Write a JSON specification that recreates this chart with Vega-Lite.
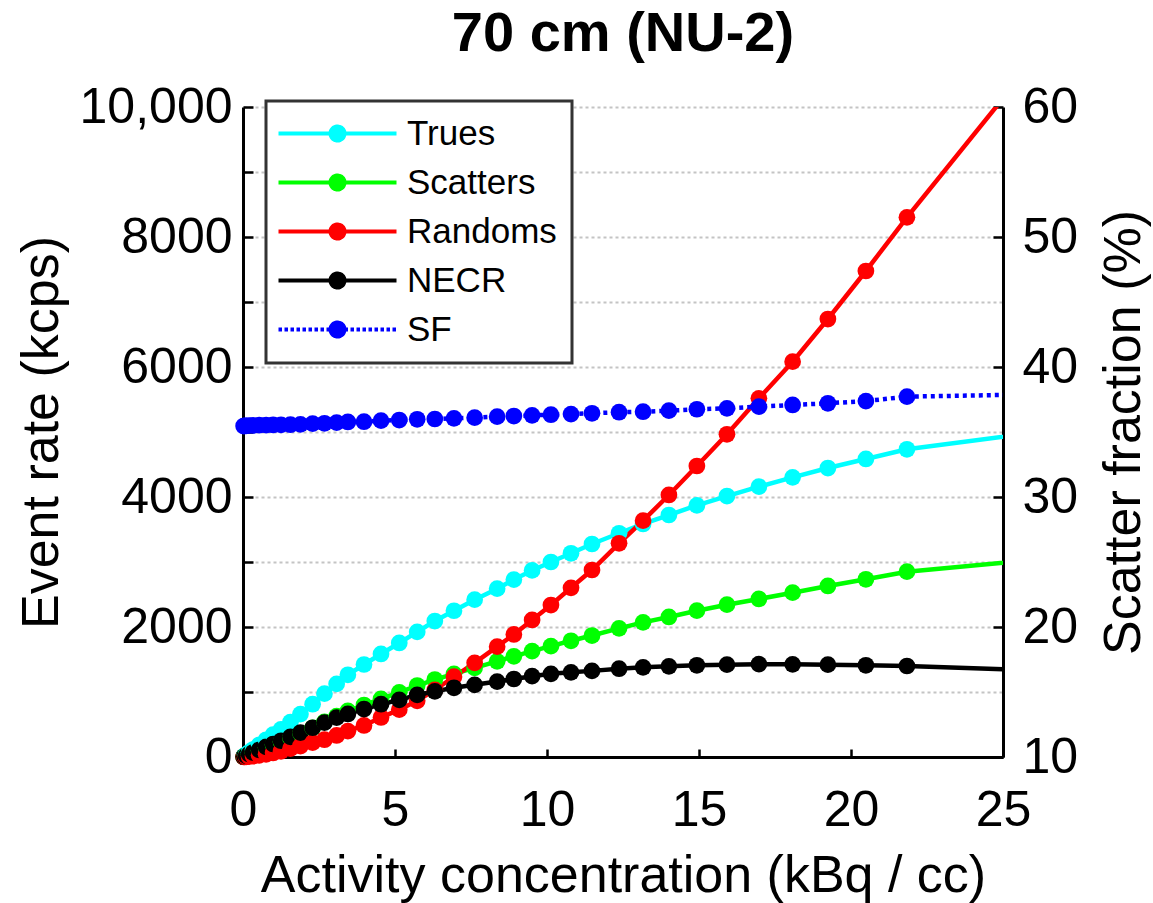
{
  "$schema": "https://vega.github.io/schema/vega-lite/v6.json",
  "width": 760,
  "height": 650,
  "autosize": {"type": "none"},
  "padding": {"left": 243, "top": 107, "right": 150, "bottom": 146},
  "background": "white",
  "title": {"text": "70 cm (NU-2)", "fontSize": 56, "font": "Liberation Sans", "fontWeight": "bold", "color": "#000000", "anchor": "middle", "offset": 19},
  "config": {"view": {"stroke": null}},
  "data": {"values": [
    {"x": 0.02, "Trues": 7, "Scatters": 4, "Randoms": 0, "NECR": 4, "SF": 35.46},
    {"x": 0.05, "Trues": 18, "Scatters": 10, "Randoms": 1, "NECR": 11, "SF": 35.47},
    {"x": 0.10, "Trues": 35, "Scatters": 19, "Randoms": 3, "NECR": 21, "SF": 35.48},
    {"x": 0.20, "Trues": 70, "Scatters": 38, "Randoms": 7, "NECR": 43, "SF": 35.50},
    {"x": 0.33, "Trues": 115, "Scatters": 63, "Randoms": 14, "NECR": 69, "SF": 35.51},
    {"x": 0.53, "Trues": 185, "Scatters": 101, "Randoms": 26, "NECR": 110, "SF": 35.52},
    {"x": 0.76, "Trues": 265, "Scatters": 145, "Randoms": 42, "NECR": 155, "SF": 35.53},
    {"x": 0.99, "Trues": 345, "Scatters": 189, "Randoms": 62, "NECR": 200, "SF": 35.54},
    {"x": 1.25, "Trues": 425, "Scatters": 234, "Randoms": 88, "NECR": 250, "SF": 35.55},
    {"x": 1.56, "Trues": 535, "Scatters": 295, "Randoms": 128, "NECR": 310, "SF": 35.56},
    {"x": 1.89, "Trues": 660, "Scatters": 364, "Randoms": 169, "NECR": 375, "SF": 35.59},
    {"x": 2.29, "Trues": 812, "Scatters": 448, "Randoms": 220, "NECR": 450, "SF": 35.64},
    {"x": 2.68, "Trues": 975, "Scatters": 540, "Randoms": 266, "NECR": 530, "SF": 35.67},
    {"x": 3.08, "Trues": 1125, "Scatters": 628, "Randoms": 331, "NECR": 605, "SF": 35.72},
    {"x": 3.45, "Trues": 1265, "Scatters": 708, "Randoms": 397, "NECR": 662, "SF": 35.77},
    {"x": 3.98, "Trues": 1423, "Scatters": 800, "Randoms": 485, "NECR": 738, "SF": 35.79},
    {"x": 4.54, "Trues": 1585, "Scatters": 895, "Randoms": 608, "NECR": 812, "SF": 35.87},
    {"x": 5.14, "Trues": 1754, "Scatters": 995, "Randoms": 728, "NECR": 878, "SF": 35.92},
    {"x": 5.73, "Trues": 1925, "Scatters": 1100, "Randoms": 865, "NECR": 955, "SF": 35.98},
    {"x": 6.31, "Trues": 2092, "Scatters": 1192, "Randoms": 1031, "NECR": 1010, "SF": 36.00},
    {"x": 6.94, "Trues": 2250, "Scatters": 1280, "Randoms": 1235, "NECR": 1065, "SF": 36.05},
    {"x": 7.62, "Trues": 2420, "Scatters": 1372, "Randoms": 1449, "NECR": 1110, "SF": 36.10},
    {"x": 8.36, "Trues": 2590, "Scatters": 1472, "Randoms": 1697, "NECR": 1160, "SF": 36.18},
    {"x": 8.91, "Trues": 2730, "Scatters": 1549, "Randoms": 1885, "NECR": 1200, "SF": 36.23},
    {"x": 9.51, "Trues": 2870, "Scatters": 1630, "Randoms": 2108, "NECR": 1243, "SF": 36.28},
    {"x": 10.13, "Trues": 3000, "Scatters": 1705, "Randoms": 2338, "NECR": 1280, "SF": 36.33},
    {"x": 10.79, "Trues": 3134, "Scatters": 1788, "Randoms": 2603, "NECR": 1303, "SF": 36.38},
    {"x": 11.48, "Trues": 3277, "Scatters": 1869, "Randoms": 2877, "NECR": 1325, "SF": 36.44},
    {"x": 12.37, "Trues": 3442, "Scatters": 1980, "Randoms": 3288, "NECR": 1358, "SF": 36.52},
    {"x": 13.16, "Trues": 3585, "Scatters": 2072, "Randoms": 3636, "NECR": 1380, "SF": 36.56},
    {"x": 14.01, "Trues": 3723, "Scatters": 2154, "Randoms": 4031, "NECR": 1395, "SF": 36.64},
    {"x": 14.93, "Trues": 3872, "Scatters": 2251, "Randoms": 4477, "NECR": 1411, "SF": 36.75},
    {"x": 15.92, "Trues": 4015, "Scatters": 2343, "Randoms": 4965, "NECR": 1420, "SF": 36.82},
    {"x": 16.97, "Trues": 4159, "Scatters": 2431, "Randoms": 5518, "NECR": 1428, "SF": 36.95},
    {"x": 18.08, "Trues": 4303, "Scatters": 2528, "Randoms": 6082, "NECR": 1426, "SF": 37.08},
    {"x": 19.24, "Trues": 4446, "Scatters": 2631, "Randoms": 6738, "NECR": 1420, "SF": 37.21},
    {"x": 20.49, "Trues": 4585, "Scatters": 2734, "Randoms": 7477, "NECR": 1411, "SF": 37.38},
    {"x": 21.84, "Trues": 4734, "Scatters": 2851, "Randoms": 8303, "NECR": 1400, "SF": 37.72},
    {"x": 27.0, "Trues": 5050, "Scatters": 3075, "Randoms": 11290, "NECR": 1317, "SF": 37.93}
  ]},
  "encoding": {
    "x": {
      "field": "x", "type": "quantitative",
      "scale": {"domain": [0, 25], "nice": false, "zero": false},
      "axis": {
        "values": [0, 5, 10, 15, 20, 25], "format": "d",
        "title": "Activity concentration (kBq / cc)",
        "tickSize": -8, "tickWidth": 2.5, "tickColor": "#000000",
        "domainColor": "#000000", "domainWidth": 3,
        "labelFont": "Liberation Sans", "labelFontSize": 50, "labelColor": "#000000",
        "labelPadding": 36, "labelFlush": false, "labelOverlap": false,
        "titleFont": "Liberation Sans", "titleFontSize": 52, "titleFontWeight": "normal", "titleColor": "#000000",
        "titlePadding": 15, "grid": false
      }
    }
  },
  "layer": [
    {
      "transform": [{"fold": ["Trues", "Scatters", "Randoms", "NECR"], "as": ["series", "v"]}],
      "encoding": {
        "y": {
          "field": "v", "type": "quantitative",
          "scale": {"domain": [0, 10000], "nice": false, "zero": false},
          "axis": {
            "orient": "left",
            "values": [0, 1000, 2000, 3000, 4000, 5000, 6000, 7000, 8000, 9000, 10000],
            "labelExpr": "datum.value % 2000 === 0 ? (datum.value === 10000 ? '10,000' : format(datum.value, 'd')) : ''",
            "title": "Event rate (kcps)",
            "tickSize": -10, "tickWidth": 2.5, "tickColor": "#000000",
            "domainColor": "#000000", "domainWidth": 3,
            "labelFont": "Liberation Sans", "labelFontSize": 50, "labelColor": "#000000",
            "labelPadding": 21, "labelOverlap": false, "labelFlush": false,
            "titleFont": "Liberation Sans", "titleFontSize": 52, "titleFontWeight": "normal", "titleColor": "#000000",
            "titlePadding": 11,
            "grid": true, "gridColor": "#c4c4c4", "gridDash": [3, 3], "gridWidth": 2
          }
        },
        "color": {
          "field": "series", "type": "nominal",
          "scale": {"domain": ["Trues", "Scatters", "Randoms", "NECR", "SF"], "range": ["#00ffff", "#00ff00", "#ff0000", "#000000", "#0000ff"]},
          "legend": {
            "title": null, "orient": "none", "legendX": 23, "legendY": -6,
            "padding": 15, "rowPadding": 13,
            "symbolType": "M-5.9,0H5.9M0.7,0A0.7,0.7,0,1,1,-0.7,0A0.7,0.7,0,1,1,0.7,0Z",
            "symbolSize": 400, "symbolStrokeWidth": 4, "symbolOffset": 39, "labelOffset": 52,
            "labelFont": "Liberation Sans", "labelFontSize": 35, "labelColor": "#000000", "labelLimit": 0,
            "strokeColor": "#333333", "fillColor": "#ffffff",
            "encode": {
              "symbols": {"update": {
                "shape": {"signal": "datum.value === 'SF' ? 'M-5.9,0h0.35m0.25,0h0.35m0.25,0h0.35m0.25,0h0.35m0.25,0h0.35m0.25,0h0.35m0.25,0h0.35m0.25,0h0.35m0.25,0h0.35m0.25,0h0.35m0.25,0h0.35m0.25,0h0.35m0.25,0h0.35m0.25,0h0.35m0.25,0h0.35m0.25,0h0.35m0.25,0h0.35m0.25,0h0.35m0.25,0h0.35m0.25,0h0.35M0.7,0A0.7,0.7,0,1,1,-0.7,0A0.7,0.7,0,1,1,0.7,0Z' : 'M-5.9,0H5.9M0.7,0A0.7,0.7,0,1,1,-0.7,0A0.7,0.7,0,1,1,0.7,0Z'"},
                "fill": {"scale": "color", "field": "value"},
                "stroke": {"scale": "color", "field": "value"},
                "strokeWidth": {"value": 4},
                "strokeDash": {"value": [1, 0]},
                "opacity": {"value": 1}
              }},
              "legend": {"update": {"strokeWidth": {"value": 3}}}
            }
          }
        }
      },
      "layer": [
        {"mark": {"type": "line", "strokeWidth": 4.5, "clip": true}},
        {"transform": [{"filter": "datum.x <= 25"}], "mark": {"type": "point", "filled": true, "opacity": 1, "size": 280, "shape": "circle"}}
      ]
    },
    {
      "transform": [{"fold": ["SF"], "as": ["series", "v"]}],
      "encoding": {
        "y": {
          "field": "v", "type": "quantitative",
          "scale": {"domain": [10, 60], "nice": false, "zero": false},
          "axis": {
            "orient": "right",
            "values": [10, 20, 30, 40, 50, 60], "format": "d",
            "title": "Scatter fraction (%)",
            "tickSize": -10, "tickWidth": 2.5, "tickColor": "#000000",
            "domainColor": "#000000", "domainWidth": 3,
            "labelFont": "Liberation Sans", "labelFontSize": 50, "labelColor": "#000000",
            "labelPadding": 29, "labelOverlap": false, "labelFlush": false,
            "titleFont": "Liberation Sans", "titleFontSize": 52, "titleFontWeight": "normal", "titleColor": "#000000",
            "titleAngle": -90, "titleBaseline": "top", "titlePadding": 21,
            "grid": false
          }
        },
        "color": {
          "field": "series", "type": "nominal",
          "scale": {"domain": ["Trues", "Scatters", "Randoms", "NECR", "SF"], "range": ["#00ffff", "#00ff00", "#ff0000", "#000000", "#0000ff"]},
          "legend": {
            "title": null, "orient": "none", "legendX": 23, "legendY": -6,
            "padding": 15, "rowPadding": 13,
            "symbolType": "M-5.9,0H5.9M0.7,0A0.7,0.7,0,1,1,-0.7,0A0.7,0.7,0,1,1,0.7,0Z",
            "symbolSize": 400, "symbolStrokeWidth": 4, "symbolOffset": 39, "labelOffset": 52,
            "labelFont": "Liberation Sans", "labelFontSize": 35, "labelColor": "#000000", "labelLimit": 0,
            "strokeColor": "#333333", "fillColor": "#ffffff",
            "encode": {
              "symbols": {"update": {
                "shape": {"signal": "datum.value === 'SF' ? 'M-5.9,0h0.35m0.25,0h0.35m0.25,0h0.35m0.25,0h0.35m0.25,0h0.35m0.25,0h0.35m0.25,0h0.35m0.25,0h0.35m0.25,0h0.35m0.25,0h0.35m0.25,0h0.35m0.25,0h0.35m0.25,0h0.35m0.25,0h0.35m0.25,0h0.35m0.25,0h0.35m0.25,0h0.35m0.25,0h0.35m0.25,0h0.35m0.25,0h0.35M0.7,0A0.7,0.7,0,1,1,-0.7,0A0.7,0.7,0,1,1,0.7,0Z' : 'M-5.9,0H5.9M0.7,0A0.7,0.7,0,1,1,-0.7,0A0.7,0.7,0,1,1,0.7,0Z'"},
                "fill": {"scale": "color", "field": "value"},
                "stroke": {"scale": "color", "field": "value"},
                "strokeWidth": {"value": 4},
                "strokeDash": {"value": [1, 0]},
                "opacity": {"value": 1}
              }},
              "legend": {"update": {"strokeWidth": {"value": 3}}}
            }
          }
        }
      },
      "layer": [
        {"mark": {"type": "line", "strokeWidth": 4.5, "strokeDash": [4, 4], "clip": true}},
        {"transform": [{"filter": "datum.x <= 25"}], "mark": {"type": "point", "filled": true, "opacity": 1, "size": 280, "shape": "circle"}}
      ]
    }
  ],
  "resolve": {"scale": {"y": "independent"}}
}
